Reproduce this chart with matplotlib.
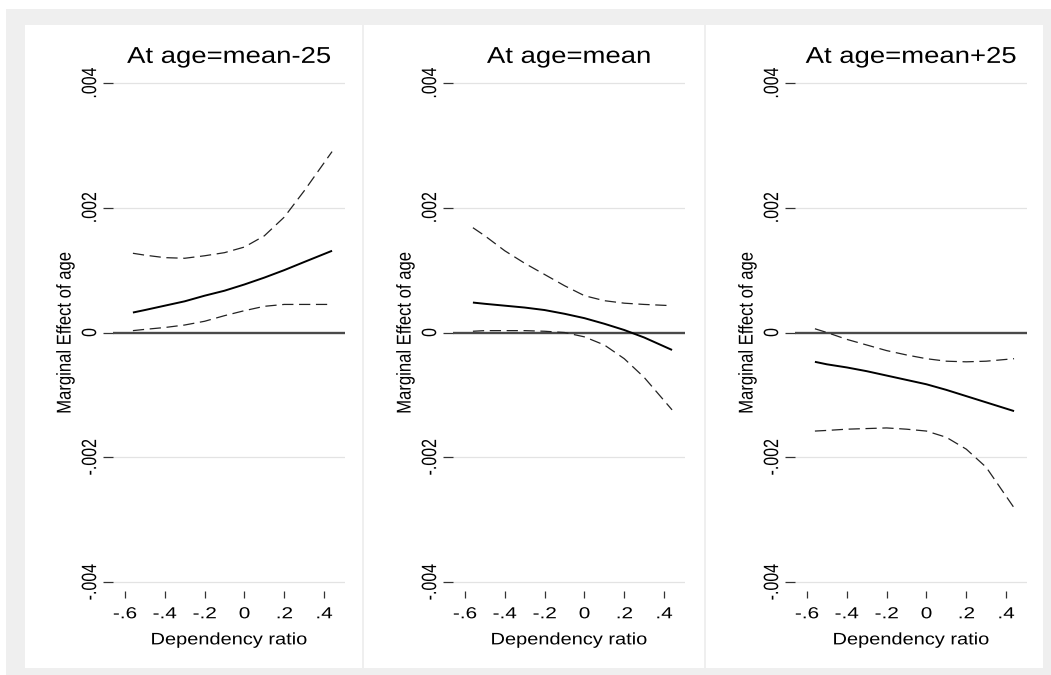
import matplotlib
matplotlib.use("Agg")
import matplotlib.pyplot as plt
from matplotlib.patches import Rectangle
from matplotlib.patheffects import AbstractPathEffect
from matplotlib.transforms import Affine2D

# Dependency ratio grid
dep = [-0.56, -0.5, -0.4, -0.3, -0.2, -0.1, 0.0, 0.1, 0.2, 0.3, 0.44]

# Marginal effect of age and 95% bounds, age = mean-25
p1_me = [0.00032, 0.00036, 0.00043, 0.00050, 0.00059, 0.00067, 0.00077, 0.00088, 0.00100, 0.00113, 0.00131]
p1_hi = [0.00127, 0.00124, 0.00120, 0.00119, 0.00123, 0.00128, 0.00137, 0.00155, 0.00185, 0.00227, 0.00290]
p1_lo = [0.00003, 0.00005, 0.00008, 0.00012, 0.00018, 0.00027, 0.00035, 0.00042, 0.00045, 0.00045, 0.00045]

# age = mean
p2_me = [0.00048, 0.00046, 0.00043, 0.00040, 0.00036, 0.00030, 0.00023, 0.00014, 0.00004, -0.00008, -0.00028]
p2_hi = [0.00168, 0.00155, 0.00131, 0.00111, 0.00093, 0.00075, 0.00059, 0.00051, 0.00047, 0.00045, 0.00043]
p2_lo = [0.00002, 0.00003, 0.00003, 0.00003, 0.00002, 0.00000, -0.00007, -0.00020, -0.00042, -0.00072, -0.00124]

# age = mean+25
p3_me = [-0.00047, -0.00051, -0.00056, -0.00062, -0.00069, -0.00076, -0.00083, -0.00092, -0.00102, -0.00112, -0.00126]
p3_hi = [0.00006, 0.00000, -0.00011, -0.00020, -0.00029, -0.00036, -0.00042, -0.00046, -0.00047, -0.00046, -0.00042]
p3_lo = [-0.00158, -0.00157, -0.00155, -0.00154, -0.00153, -0.00155, -0.00158, -0.00168, -0.00187, -0.00216, -0.00281]

titles = ["At age=mean-25", "At age=mean", "At age=mean+25"]
xlabel = "Dependency ratio"
ylabel = "Marginal Effect of age"
xticks = [-0.6, -0.4, -0.2, 0.0, 0.2, 0.4]
xticklabels = ["-.6", "-.4", "-.2", "0", ".2", ".4"]
yticks = [-0.004, -0.002, 0.0, 0.002, 0.004]
yticklabels = ["-.004", "-.002", "0", ".002", ".004"]

panels = [(p1_me, p1_hi, p1_lo), (p2_me, p2_hi, p2_lo), (p3_me, p3_hi, p3_lo)]


class WideText(AbstractPathEffect):
    """Stretch glyph outlines about their centre (Stata-like wide lettering)."""

    def __init__(self, sx=1.0, sy=1.0):
        super().__init__()
        self.sx, self.sy = sx, sy

    def draw_path(self, renderer, gc, tpath, affine, rgbFace=None):
        v = tpath.vertices
        if len(v):
            cx = 0.5 * (v[:, 0].min() + v[:, 0].max())
            cy = 0.5 * (v[:, 1].min() + v[:, 1].max())
        else:
            cx = cy = 0.0
        st = Affine2D().translate(-cx, -cy).scale(self.sx, self.sy).translate(cx, cy)
        renderer.draw_path(gc, tpath, st + affine, rgbFace)


W, H = 1051, 675
plt.rcParams["font.family"] = ["Liberation Sans", "DejaVu Sans"]
fig = plt.figure(figsize=(W / 100, H / 100), dpi=100)
fig.patch.set_facecolor("white")

GRAY = "#efefef"


def fx(px):
    return px / W


def fy(py):
    return 1 - py / H


# outer gray frame and white panels
fig.patches.append(Rectangle((fx(6), 0), fx(W - 6), 1 - 9 / H, transform=fig.transFigure,
                             facecolor=GRAY, edgecolor="none", zorder=0))
panel_bounds = [(25, 362), (364, 704), (706, 1043)]
for (a, b) in panel_bounds:
    fig.patches.append(Rectangle((fx(a), fy(668)), fx(b - a), (668 - 25) / H,
                                 transform=fig.transFigure, facecolor="white",
                                 edgecolor="none", zorder=0.5))

ax_left = [113, 453, 795]
ax_top, ax_bot, ax_w = 74, 591, 232

wide_title = [WideText(sx=1.2)]
wide_tick_x = [WideText(sx=1.3)]
wide_tick_y = [WideText(sy=1.3)]
wide_h = [WideText(sx=1.2)]
wide_v = [WideText(sy=1.2)]

for i, (me, hi, lo) in enumerate(panels):
    ax = fig.add_axes([fx(ax_left[i]), fy(ax_bot), fx(ax_w), (ax_bot - ax_top) / H])
    ax.set_zorder(2)
    ax.set_facecolor("none")
    for s in ax.spines.values():
        s.set_visible(False)
    ax.set_xlim(-0.66, 0.505)
    ax.set_ylim(-0.004144, 0.004144)

    for yv in yticks:
        if yv != 0:
            ax.axhline(yv, color="#e3e3e3", lw=0.9, zorder=1)
    ax.axhline(0, color="#4a4a4a", lw=1.7, zorder=2)

    ax.plot(dep, me, color="black", lw=1.4, solid_capstyle="butt", zorder=4)
    ax.plot(dep, hi, color="#222222", lw=0.9, dashes=(9, 4.5), zorder=3)
    ax.plot(dep, lo, color="#222222", lw=0.9, dashes=(9, 4.5), zorder=3)

    ax.set_xticks(xticks)
    ax.set_xticklabels(xticklabels)
    ax.set_yticks(yticks)
    ax.set_yticklabels(yticklabels, rotation=90, va="center")
    ax.tick_params(axis="x", direction="out", length=5, width=0.9, color="#333333",
                   pad=6, labelsize=11.5)
    ax.tick_params(axis="y", direction="out", length=7.2, width=0.9, color="#333333",
                   pad=4, labelsize=11.5)
    for t in ax.get_xticklabels():
        t.set_path_effects(wide_tick_x)
    for t in ax.get_yticklabels():
        t.set_path_effects(wide_tick_y)

    ax.set_title(titles[i], fontsize=16.5, pad=8, path_effects=wide_title)
    ax.set_xlabel(xlabel, fontsize=12, labelpad=8, path_effects=wide_h)
    ax.set_ylabel(ylabel, fontsize=12, labelpad=7, path_effects=wide_v)

fig.savefig("out.png", dpi=100, facecolor=fig.get_facecolor())
